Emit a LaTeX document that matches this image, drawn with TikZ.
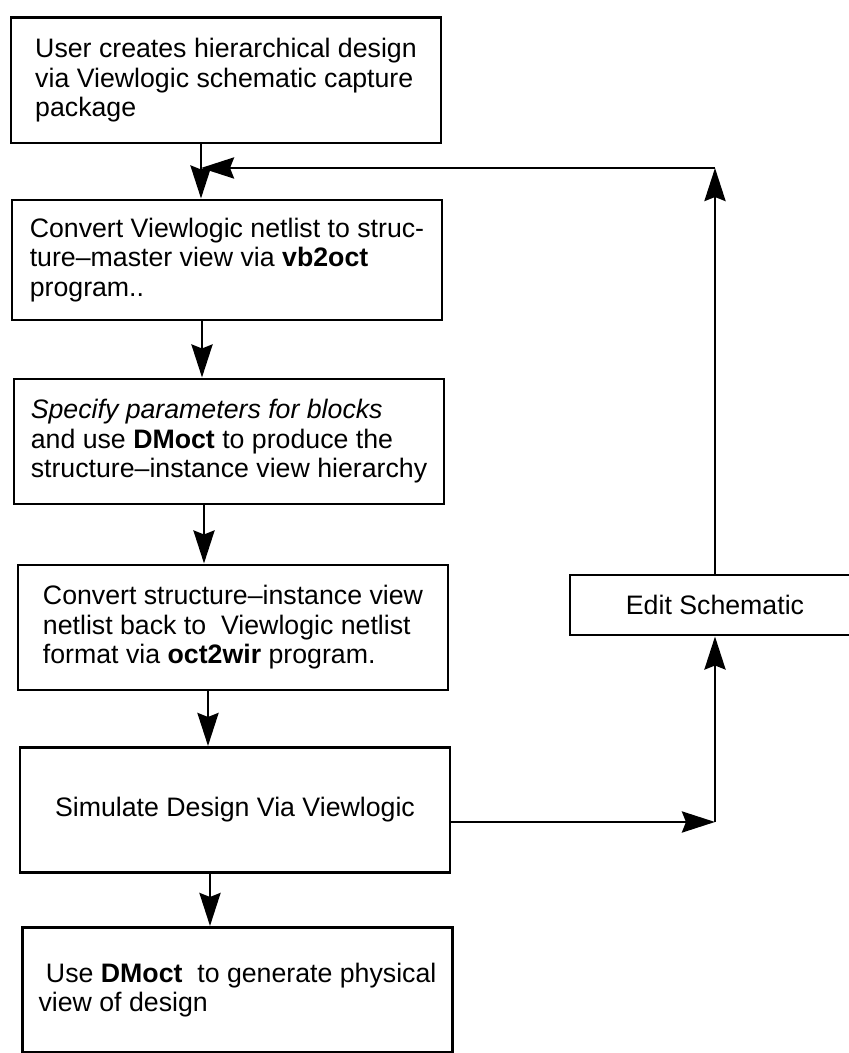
\documentclass[tikz,border=0pt]{standalone}
\usepackage{fontspec}
\setmainfont{Liberation Sans}
\usetikzlibrary{arrows.meta,positioning}

\begin{document}
\begin{tikzpicture}[
    font=\fontsize{15.2}{16.8}\selectfont,
    >={Stealth[length=0.66cm, width=0.42cm, inset=0.08cm]},
    line width=1.7pt,
    stepbox/.style={draw, align=left, minimum width=8.6cm, minimum height=2.5cm, inner sep=0pt}
  ]
  \useasboundingbox (0,0) rectangle (16.98,21.06);

  % flow boxes
  \node[stepbox] (create) at (4.52,19.45)
    {User creates hierarchical design\\ via Viewlogic schematic capture\\ package};
  \node[stepbox, minimum height=2.4cm] (convert) at (4.54,15.86)
    {Convert Viewlogic netlist to struc-\\ ture--master view via \textbf{vb2oct}\\ program..};
  \node[stepbox] (specify) at (4.58,12.23)
    {\textit{Specify parameters for blocks}\\ and use \textbf{DMoct} to produce the\\ structure--instance view hierarchy};
  \node[stepbox] (back) at (4.66,8.51)
    {Convert structure--instance view\\ netlist back to\ \ Viewlogic netlist\\ format via \textbf{oct2wir} program.};
  \node[stepbox] (simulate) at (4.70,4.86) {Simulate Design Via Viewlogic};
  \node[stepbox] (physical) at (4.75,1.26)
    {\ Use \textbf{DMoct}\ \ to generate physical\\ view of design};

  % arrows down
  \foreach \a/\b in {create/convert, convert/specify, specify/back, back/simulate, simulate/physical}
    \draw[->] ([xshift=-0.5cm]\a.south) -- ([xshift=-0.5cm]\a.south |- \b.north);

  % feedback loop
  \node[stepbox, minimum width=5.8cm, minimum height=1.2cm] (edit) at (14.3,8.96) {Edit Schematic};
  \coordinate (fbout) at ([yshift=-0.24cm]simulate.east);
  \coordinate (fbcorner) at (fbout -| edit.south);
  \coordinate (fbtop) at (14.3,17.7);
  \coordinate (fbend) at ([xshift=-0.5cm]create.south |- fbtop);
  \draw[->] (fbout) -- (fbcorner);
  \draw[->] (fbcorner) -- (edit.south);
  \draw[->] (edit.north) -- (fbtop);
  \draw[->] (fbtop) -- (fbend);
\end{tikzpicture}
\end{document}
